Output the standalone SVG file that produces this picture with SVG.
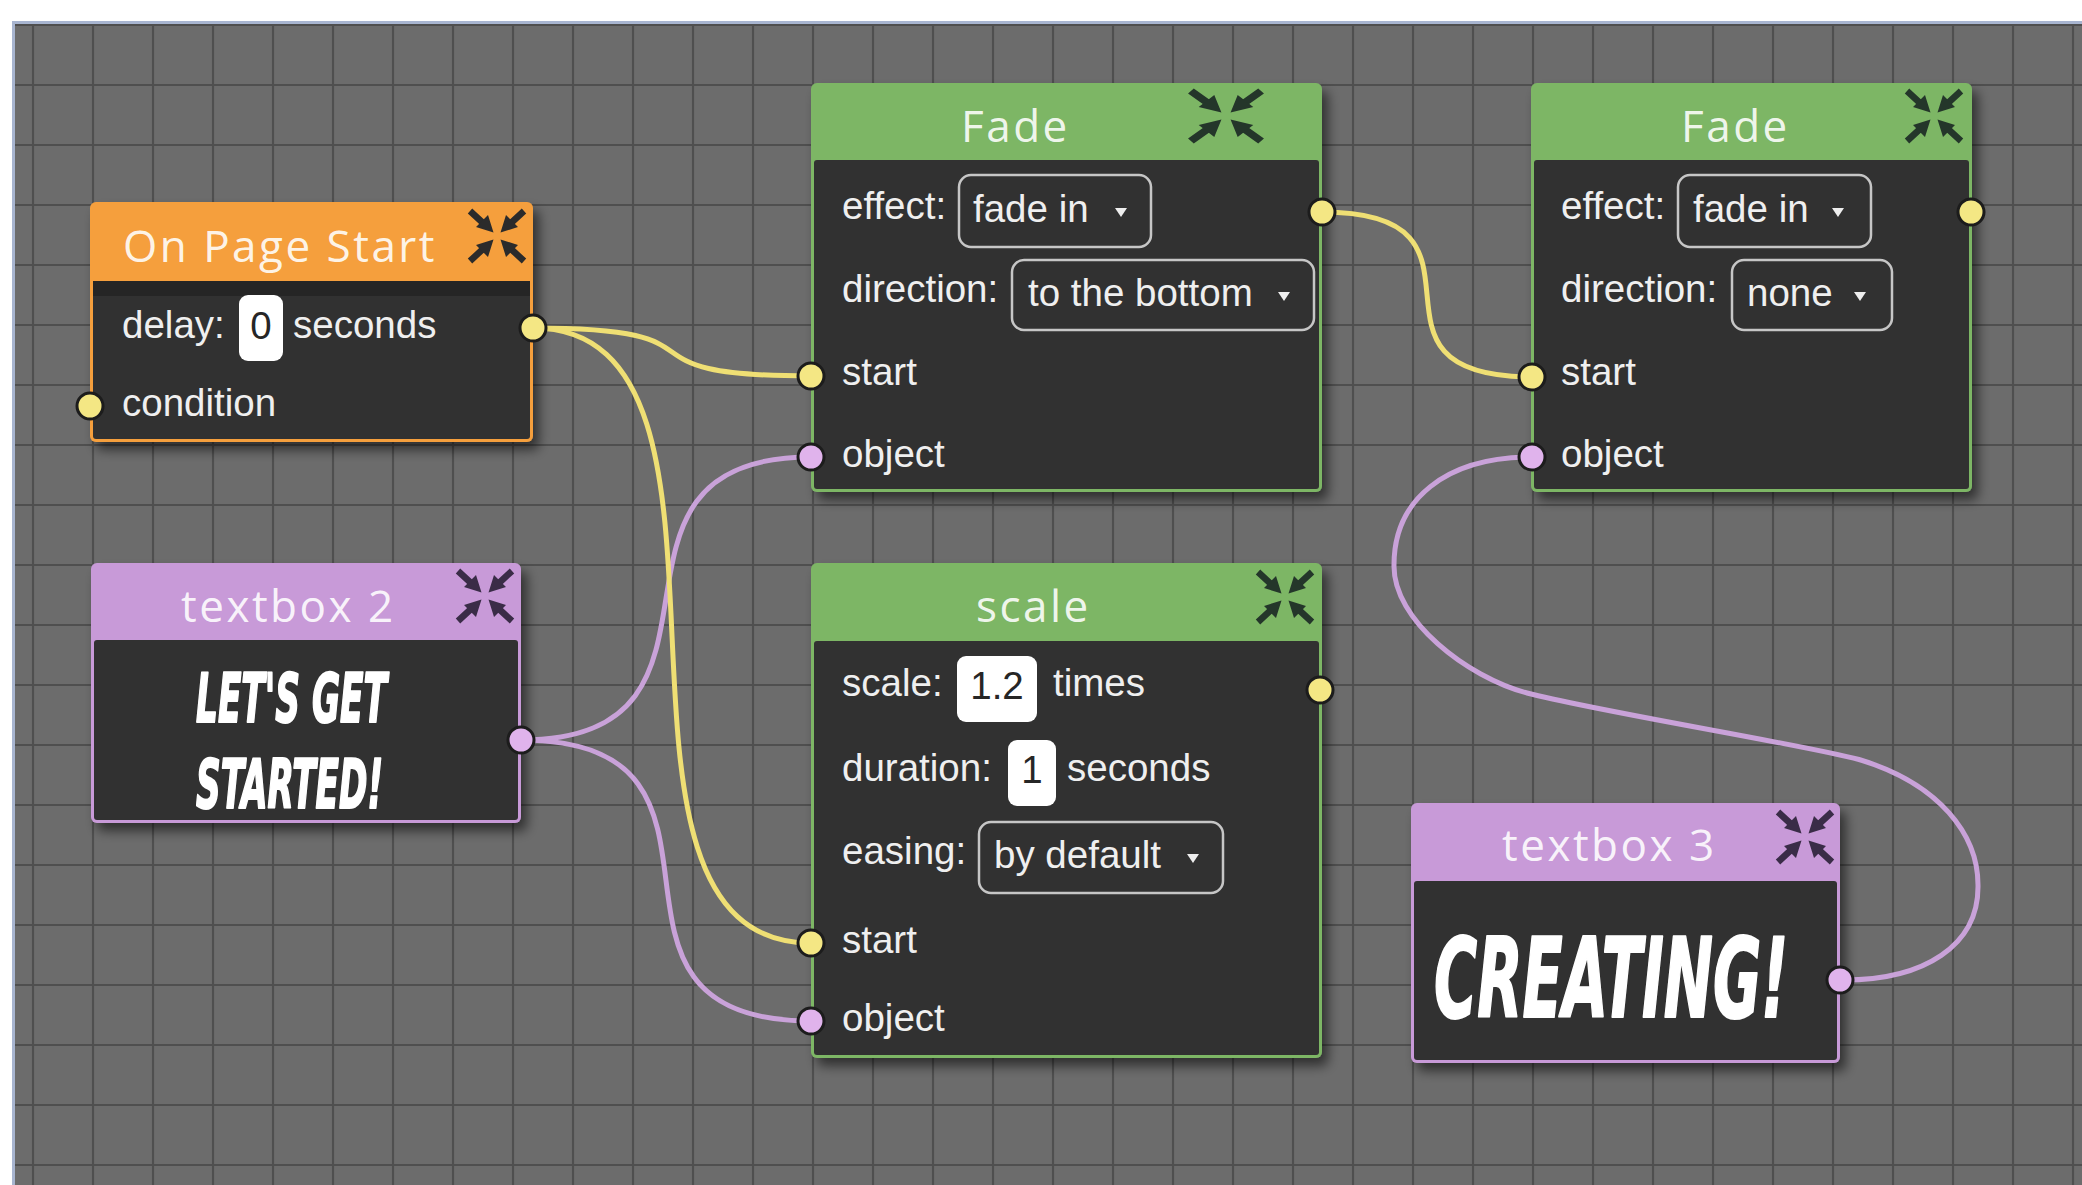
<svg xmlns="http://www.w3.org/2000/svg" xmlns:xlink="http://www.w3.org/1999/xlink" width="2082" height="1185" viewBox="0 0 2082 1185">
<style>
.title{font-family:'Open Sans','Noto Sans',sans-serif;font-size:44px;letter-spacing:2.5px;fill:#ffffff;fill-opacity:.9}
.lbl{font-family:'Liberation Sans',Arial,sans-serif;font-size:38.5px;fill:#efefef}
.num{font-family:'Liberation Sans',Arial,sans-serif;font-size:38.5px;fill:#262626;text-anchor:middle}
.body{fill:#313131}
.dd{fill:none;stroke:#c6c6c6;stroke-width:2.5}
.inp{fill:#ffffff}
.tri{fill:#eeeeee}
.py{fill:#f4e784;stroke:#1c1c1c;stroke-width:3}
.pp{fill:#e0b3ec;stroke:#1c1c1c;stroke-width:3}
.cy{fill:none;stroke:#efdf74;stroke-width:5}
.cp{fill:none;stroke:#c9a2d9;stroke-width:5}
.comic{font-family:'Liberation Sans Narrow','DejaVu Sans Condensed','DejaVu Sans',sans-serif;font-weight:bold;font-style:italic;fill:#ffffff;stroke:#ffffff;stroke-width:2;stroke-linejoin:round}
</style>
<defs>
<pattern id="grid" x="3" y="-5" width="60" height="60" patternUnits="userSpaceOnUse">
<path d="M30 0V60M0 30H60" stroke="#4f4f4f" stroke-width="2.2" fill="none"/>
</pattern>
<filter id="sh" x="-10%" y="-10%" width="125%" height="130%">
<feDropShadow dx="6" dy="8" stdDeviation="6" flood-color="#000" flood-opacity="0.55"/>
</filter>
<g id="ico">
<path d="M-27 -25L-14 -13M27 -25L14 -13M-27 25L-14 13M27 25L14 13" stroke-width="6.5" fill="none"/>
<path d="M-3.5 -3.5L-21 -9L-9 -21ZM3.5 -3.5L21 -9L9 -21ZM-3.5 3.5L-21 9L-9 21ZM3.5 3.5L21 9L9 21Z" stroke="none"/>
</g>
</defs>
<rect width="2082" height="1185" fill="#ffffff"/>
<rect x="12" y="21" width="2070" height="1164" fill="#6c6c6c"/>
<rect x="12" y="21" width="2070" height="1164" fill="url(#grid)"/>
<path d="M12 22.5H2082M13.5 21V1185" stroke="#a8b5d0" stroke-width="3" fill="none"/>

<g id="connectors">
<path class="cp" d="M521 740C766 740 566 457 811 457"/>
<path class="cp" d="M521 740C776 740 556 1021 811 1021"/>
<path class="cp" d="M1840 980C1925 981 1979 945 1978 885C1978 835 1940 784 1859 759.5C1800 744 1600 712 1527 693C1467 677 1393 620 1394 565C1394 500 1445 457 1532 457"/>
<path class="cy" d="M533 328C743 328 601 376 811 376"/>
<path class="cy" d="M533 328C783 328 561 943 811 943"/>
<path class="cy" d="M1322 212C1517 212 1337 377 1532 377"/>
</g>

<g id="node-on-page-start">
<rect x="90" y="202" width="443" height="240" rx="6" fill="#f59f3e" filter="url(#sh)"/>
<rect x="93" y="281" width="437" height="158" rx="3" class="body"/>
<rect x="93" y="281" width="437" height="15" fill="#252525"/>
<text class="title" x="123" y="262">On Page Start</text>
<use xlink:href="#ico" transform="translate(497 236)" fill="#2b2b2b" stroke="#2b2b2b"/>
<text class="lbl" x="122" y="338">delay:</text>
<rect class="inp" x="239" y="295" width="44" height="66" rx="9"/>
<text class="num" x="261" y="339">0</text>
<text class="lbl" x="293" y="338">seconds</text>
<text class="lbl" x="122" y="416">condition</text>
<circle class="py" cx="533" cy="328" r="13"/>
<circle class="py" cx="90" cy="406" r="13"/>
</g>

<g id="node-textbox-2">
<rect x="91" y="563" width="430" height="260" rx="6" fill="#c89ad8" filter="url(#sh)"/>
<rect x="94" y="640" width="424" height="180" rx="3" class="body"/>
<text class="title" x="181" y="622">textbox 2</text>
<use xlink:href="#ico" transform="translate(485 596)" fill="#3a2c47" stroke="#3a2c47"/>
<text class="comic" x="196" y="722" font-size="67" textLength="191" lengthAdjust="spacingAndGlyphs">LET'S GET</text>
<text class="comic" x="196" y="808" font-size="67" textLength="187" lengthAdjust="spacingAndGlyphs">STARTED!</text>
<circle class="pp" cx="521" cy="740" r="13"/>
</g>

<g id="node-fade-1">
<rect x="811" y="83" width="511" height="409" rx="6" fill="#7db665" filter="url(#sh)"/>
<rect x="814" y="160" width="505" height="329" rx="3" class="body"/>
<text class="title" x="961" y="142">Fade</text>
<use xlink:href="#ico" transform="translate(1226 116) scale(1.3 1)" fill="#24362a" stroke="#24362a"/>
<text class="lbl" x="842" y="219">effect:</text>
<rect class="dd" x="959" y="175" width="192" height="72" rx="12"/>
<text class="lbl" x="973" y="222">fade in</text>
<polygon class="tri" points="1115,208 1127,208 1121,217"/>
<text class="lbl" x="842" y="302">direction:</text>
<rect class="dd" x="1012" y="260" width="302" height="70" rx="12"/>
<text class="lbl" x="1028" y="306">to the bottom</text>
<polygon class="tri" points="1278,292 1290,292 1284,301"/>
<text class="lbl" x="842" y="385">start</text>
<text class="lbl" x="842" y="467">object</text>
<circle class="py" cx="1322" cy="212" r="13"/>
<circle class="py" cx="811" cy="376" r="13"/>
<circle class="pp" cx="811" cy="457" r="13"/>
</g>

<g id="node-fade-2">
<rect x="1531" y="83" width="441" height="409" rx="6" fill="#7db665" filter="url(#sh)"/>
<rect x="1534" y="160" width="435" height="329" rx="3" class="body"/>
<text class="title" x="1681" y="142">Fade</text>
<use xlink:href="#ico" transform="translate(1934 116)" fill="#24362a" stroke="#24362a"/>
<text class="lbl" x="1561" y="219">effect:</text>
<rect class="dd" x="1678" y="175" width="193" height="72" rx="12"/>
<text class="lbl" x="1693" y="222">fade in</text>
<polygon class="tri" points="1832,208 1844,208 1838,217"/>
<text class="lbl" x="1561" y="302">direction:</text>
<rect class="dd" x="1732" y="260" width="160" height="70" rx="12"/>
<text class="lbl" x="1747" y="306">none</text>
<polygon class="tri" points="1854,292 1866,292 1860,301"/>
<text class="lbl" x="1561" y="385">start</text>
<text class="lbl" x="1561" y="467">object</text>
<circle class="py" cx="1971" cy="212" r="13"/>
<circle class="py" cx="1532" cy="377" r="13"/>
<circle class="pp" cx="1532" cy="457" r="13"/>
</g>

<g id="node-scale">
<rect x="811" y="563" width="511" height="495" rx="6" fill="#7db665" filter="url(#sh)"/>
<rect x="814" y="641" width="505" height="414" rx="3" class="body"/>
<text class="title" x="976" y="622">scale</text>
<use xlink:href="#ico" transform="translate(1285 597)" fill="#24362a" stroke="#24362a"/>
<text class="lbl" x="842" y="696">scale:</text>
<rect class="inp" x="957" y="656" width="80" height="66" rx="9"/>
<text class="num" x="997" y="699">1.2</text>
<text class="lbl" x="1053" y="696">times</text>
<text class="lbl" x="842" y="781">duration:</text>
<rect class="inp" x="1008" y="740" width="48" height="66" rx="9"/>
<text class="num" x="1032" y="783">1</text>
<text class="lbl" x="1067" y="781">seconds</text>
<text class="lbl" x="842" y="864">easing:</text>
<rect class="dd" x="979" y="822" width="244" height="71" rx="12"/>
<text class="lbl" x="994" y="868">by default</text>
<polygon class="tri" points="1187,854 1199,854 1193,863"/>
<text class="lbl" x="842" y="953">start</text>
<text class="lbl" x="842" y="1031">object</text>
<circle class="py" cx="1320" cy="690" r="13"/>
<circle class="py" cx="811" cy="943" r="13"/>
<circle class="pp" cx="811" cy="1021" r="13"/>
</g>

<g id="node-textbox-3">
<rect x="1411" y="803" width="429" height="260" rx="6" fill="#c89ad8" filter="url(#sh)"/>
<rect x="1414" y="881" width="423" height="179" rx="3" class="body"/>
<text class="title" x="1502" y="861">textbox 3</text>
<use xlink:href="#ico" transform="translate(1805 837)" fill="#3a2c47" stroke="#3a2c47"/>
<text class="comic" x="1434" y="1017" font-size="110" textLength="354" lengthAdjust="spacingAndGlyphs">CREATING!</text>
<circle class="pp" cx="1840" cy="980" r="13"/>
</g>
</svg>
